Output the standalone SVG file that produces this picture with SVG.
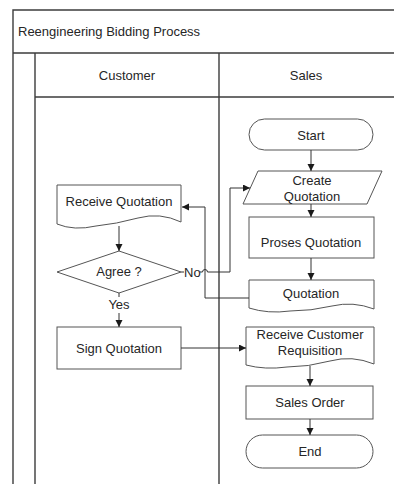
<svg xmlns="http://www.w3.org/2000/svg" width="394" height="484" viewBox="0 0 394 484">
  <style>
    .frame { fill: none; stroke: #3c3c3c; stroke-width: 1.4; }
    .shape { fill: #ffffff; stroke: #555555; stroke-width: 1; }
    .conn { fill: none; stroke: #333333; stroke-width: 1; }
    text { font-family: "Liberation Sans", Arial, sans-serif; font-size: 13px; fill: #262626; }
    .c { text-anchor: middle; }
  </style>
  <defs>
    <marker id="arrow" markerUnits="userSpaceOnUse" markerWidth="8" markerHeight="8" refX="7" refY="3.5" orient="auto">
      <path d="M0,0 L7,3.5 L0,7 z" fill="#1a1a1a"/>
    </marker>
  </defs>

  <rect width="394" height="484" fill="#ffffff"/>

  <!-- Pool and swimlanes -->
  <g id="pool">
    <path class="frame" d="M13,484 V10 H394 M13,53 H394 M35,53 V484 M35,97 H394 M219,53 V484"/>
    <text x="18" y="36">Reengineering Bidding Process</text>
    <text class="c" x="127" y="80">Customer</text>
    <text class="c" x="306" y="80">Sales</text>
  </g>

  <!-- Customer lane -->
  <g id="receive-quotation">
    <path class="shape" d="M57,185 H181 V222 Q160,212 138,218 T96,226 Q74,231 57,224 Z"/>
    <text class="c" x="119" y="206">Receive Quotation</text>
  </g>
  <g id="agree">
    <path class="shape" d="M119,251 L181,272 L119,293 L57,272 Z"/>
    <text class="c" x="119" y="276">Agree ?</text>
  </g>
  <g id="sign-quotation">
    <rect class="shape" x="57" y="327" width="124" height="42"/>
    <text class="c" x="119" y="353">Sign Quotation</text>
  </g>

  <!-- Sales lane -->
  <g id="start">
    <rect class="shape" x="249" y="119" width="124" height="31" rx="15.5"/>
    <text class="c" x="311" y="140">Start</text>
  </g>
  <g id="create-quotation">
    <path class="shape" d="M258,171 H382 L367,204 H243 Z"/>
    <text class="c" x="312" y="185">Create</text>
    <text class="c" x="312" y="201">Quotation</text>
  </g>
  <g id="proses-quotation">
    <rect class="shape" x="249" y="217" width="125" height="41"/>
    <text class="c" x="311" y="247">Proses Quotation</text>
  </g>
  <g id="quotation">
    <path class="shape" d="M249,280 H374 V309 Q353,301 332,306 T290,311 Q268,314 249,308 Z"/>
    <text class="c" x="311" y="298">Quotation</text>
  </g>
  <g id="receive-customer-requisition">
    <path class="shape" d="M246,327 H374 V364 Q352,355 330,361 T287,367 Q265,370 246,365 Z"/>
    <text class="c" x="310" y="339">Receive Customer</text>
    <text class="c" x="310" y="355">Requisition</text>
  </g>
  <g id="sales-order">
    <rect class="shape" x="246" y="386" width="127" height="33"/>
    <text class="c" x="310" y="407">Sales Order</text>
  </g>
  <g id="end">
    <rect class="shape" x="246" y="435" width="127" height="33" rx="16.5"/>
    <text class="c" x="310" y="456">End</text>
  </g>

  <!-- Connectors -->
  <g id="connectors">
    <path class="conn" d="M311,150 V171" marker-end="url(#arrow)"/>
    <path class="conn" d="M311,204 V217" marker-end="url(#arrow)"/>
    <path class="conn" d="M311,258 V280" marker-end="url(#arrow)"/>
    <path class="conn" d="M249,298 H205 V207 H182" marker-end="url(#arrow)"/>
    <path class="conn" d="M119,226 V251" marker-end="url(#arrow)"/>
    <path class="conn" d="M181,272 H184"/>
    <path class="conn" d="M200,272 H202.5 A2.5,2.5 0 0 1 207.5,272 H230 V188 H250" marker-end="url(#arrow)"/>
    <path class="conn" d="M119,293 V297"/>
    <path class="conn" d="M119,313 V327" marker-end="url(#arrow)"/>
    <path class="conn" d="M181,348 H246" marker-end="url(#arrow)"/>
    <path class="conn" d="M310,366 V386" marker-end="url(#arrow)"/>
    <path class="conn" d="M310,419 V435" marker-end="url(#arrow)"/>
    <text x="184" y="277">No</text>
    <text class="c" x="119" y="309">Yes</text>
  </g>
</svg>
